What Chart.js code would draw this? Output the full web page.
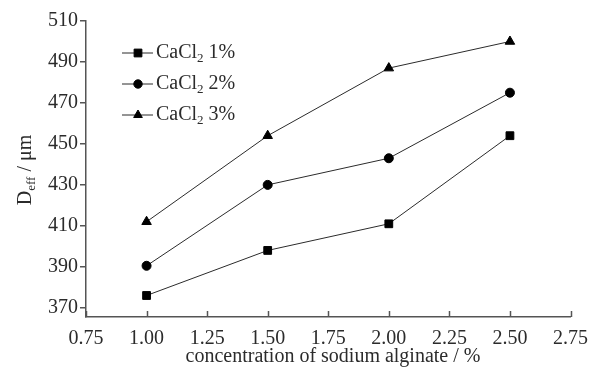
<!DOCTYPE html>
<html>
<head>
<meta charset="utf-8">
<script src="https://cdn.jsdelivr.net/npm/chart.js@4.4.0/dist/chart.umd.min.js"></script>
<style>
  html, body { margin: 0; padding: 0; background: #fff; }
  #wrap { width: 598px; height: 369px; }
</style>
</head>
<body>
<div id="wrap"><canvas id="chart" width="598" height="369"></canvas></div>
<script>
const concentration = [1.00, 1.50, 2.00, 2.50];
const cacl1 = [376, 398, 411, 454];
const cacl2 = [390.5, 430, 443, 475];
const cacl3 = [412, 454, 487, 500];
const seriesNames = ['CaCl₂ 1%', 'CaCl₂ 2%', 'CaCl₂ 3%'];
const yTicks = [370, 390, 410, 430, 450, 470, 490, 510];
const xTicks = [0.75, 1.00, 1.25, 1.50, 1.75, 2.00, 2.25, 2.50, 2.75];

const font = 'Liberation Serif';
const ink = '#2b2b2b';
const big = 20;
const small = 13;

function pts(vals) {
    return vals.map((v, i) => ({ x: concentration[i], y: v }));
}

// inward tick marks on the x axis, legend and axis titles
const decor = {
    id: 'decor',
    afterDraw(chart) {
        const ctx = chart.ctx;
        const xs = chart.scales.x;
        const ys = chart.scales.y;
        ctx.save();
        ctx.strokeStyle = '#555';
        ctx.lineWidth = 1.5;
        xTicks.forEach(t => {
            const px = Math.round(xs.getPixelForValue(t)) + 0.5;
            ctx.beginPath();
            ctx.moveTo(px, ys.bottom);
            ctx.lineTo(px, ys.bottom - 6);
            ctx.stroke();
        });

        // legend
        const styles = ['rect', 'circle', 'triangle'];
        const rowsY = [53, 84, 115];
        ctx.textBaseline = 'middle';
        rowsY.forEach((y, i) => {
            ctx.strokeStyle = ink;
            ctx.lineWidth = 1;
            ctx.beginPath();
            ctx.moveTo(122, y);
            ctx.lineTo(153, y);
            ctx.stroke();
            ctx.fillStyle = '#000';
            ctx.strokeStyle = '#000';
            Chart.helpers.drawPoint(ctx, { pointStyle: styles[i], radius: styles[i] === 'triangle' ? 5 : (styles[i] === 'rect' ? 5.5 : 4.2), borderWidth: 1 }, 138, y);
            ctx.fillStyle = ink;
            ctx.textAlign = 'left';
            ctx.font = big + 'px "' + font + '"';
            ctx.fillText('CaCl', 156, y);
            let w = ctx.measureText('CaCl').width;
            ctx.font = small + 'px "' + font + '"';
            ctx.fillText('2', 156 + w, y + 6);
            const w2 = ctx.measureText('2').width;
            ctx.font = big + 'px "' + font + '"';
            ctx.fillText(' ' + (i + 1) + '%', 156 + w + w2, y);
        });

        // x title
        ctx.font = big + 'px "' + font + '"';
        ctx.textAlign = 'center';
        ctx.textBaseline = 'alphabetic';
        ctx.fillText('concentration of sodium alginate / %', 333, 362);

        // y title
        ctx.translate(24, 170);
        ctx.rotate(-Math.PI / 2);
        ctx.textAlign = 'left';
        const t1 = 'D';
        const t2 = 'eff';
        const t3 = ' / μm';
        ctx.font = big + 'px "' + font + '"';
        const a = ctx.measureText(t1).width;
        ctx.font = small + 'px "' + font + '"';
        const b = ctx.measureText(t2).width;
        ctx.font = big + 'px "' + font + '"';
        const c = ctx.measureText(t3).width;
        let x0 = -(a + b + c) / 2;
        ctx.fillText(t1, x0, 7);
        ctx.font = small + 'px "' + font + '"';
        ctx.fillText(t2, x0 + a, 11);
        ctx.font = big + 'px "' + font + '"';
        ctx.fillText(t3, x0 + a + b, 7);
        ctx.restore();
    }
};

function ds(label, vals, style, r) {
    return {
        label: label,
        data: pts(vals),
        borderColor: ink,
        borderWidth: 1,
        backgroundColor: '#000',
        pointStyle: style,
        pointRadius: r,
        pointBorderWidth: 1,
        pointBorderColor: '#000',
        pointBackgroundColor: '#000',
        tension: 0
    };
}

new Chart(document.getElementById('chart'), {
    type: 'line',
    data: {
        datasets: [
            ds(seriesNames[0], cacl1, 'rect', 5.5),
            ds(seriesNames[1], cacl2, 'circle', 4.5),
            ds(seriesNames[2], cacl3, 'triangle', 5.5)
        ]
    },
    options: {
        responsive: false,
        animation: false,
        layout: { padding: { top: 21, right: 15, left: 0, bottom: 0 } },
        plugins: { legend: { display: false }, tooltip: { enabled: false } },
        scales: {
            x: {
                type: 'linear',
                min: 0.75,
                max: 2.75,
                afterBuildTicks: s => { s.ticks = xTicks.map(v => ({ value: v })); },
                afterFit: s => { s.height = 52; },
                border: { color: '#555', width: 1.5 },
                grid: { display: false, drawTicks: false },
                ticks: {
                    padding: 10,
                    color: ink,
                    font: { family: font, size: big },
                    callback: v => Number(v).toFixed(2)
                }
            },
            y: {
                min: 365.5,
                max: 510,
                afterBuildTicks: s => { s.ticks = yTicks.map(v => ({ value: v })); },
                afterFit: s => { s.width = 86; },
                border: { color: '#555', width: 1.5 },
                grid: { drawOnChartArea: false, drawTicks: true, tickLength: 6, color: '#555', lineWidth: 1.5 },
                ticks: {
                    padding: 2,
                    color: ink,
                    font: { family: font, size: big }
                }
            }
        }
    },
    plugins: [decor]
});
</script>
</body>
</html>
